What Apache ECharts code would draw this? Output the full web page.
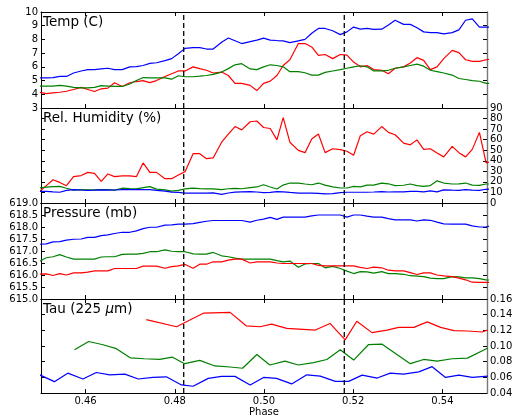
<!DOCTYPE html>
<html>
<head>
<meta charset="utf-8">
<script src="https://cdn.jsdelivr.net/npm/echarts@6/dist/echarts.min.js"></script>
<style>
  html, body { margin: 0; padding: 0; background: #fff; }
  #chart { width: 518px; height: 418px; }
</style>
</head>
<body>
<div id="chart"></div>
<script>
// Orbital phase of each weather sample
const phase = [0.4497, 0.4512, 0.4527, 0.4542, 0.4557, 0.4573, 0.4590, 0.4605, 0.4620, 0.4635,
  0.4650, 0.4665, 0.4682, 0.4699, 0.4714, 0.4729, 0.4744, 0.4759, 0.4778, 0.4793,
  0.4808, 0.4823, 0.4841, 0.4856, 0.4871, 0.4886, 0.4905, 0.4920, 0.4935, 0.4950,
  0.4969, 0.4984, 0.4999, 0.5014, 0.5029, 0.5043, 0.5058, 0.5077, 0.5092, 0.5107,
  0.5122, 0.5137, 0.5154, 0.5171, 0.5186, 0.5201, 0.5216, 0.5231, 0.5246, 0.5264,
  0.5279, 0.5294, 0.5313, 0.5328, 0.5343, 0.5358, 0.5373, 0.5388, 0.5403, 0.5422,
  0.5437, 0.5452, 0.5467, 0.5483, 0.5498, 0.5515];

// Temperature (C)
const tempBlue = [5.2, 5.2, 5.22, 5.3, 5.3, 5.55, 5.7, 5.8, 5.8, 5.85,
  5.9, 5.8, 5.8, 6.0, 6.02, 6.1, 6.25, 6.3, 6.45, 6.6,
  6.95, 7.35, 7.4, 7.4, 7.3, 7.3, 7.8, 8.1, 7.9, 7.7,
  7.84, 7.95, 8.1, 7.95, 7.92, 7.9, 7.77, 7.9, 8.0, 8.45,
  8.8, 8.8, 8.63, 8.35, 8.55, 8.9, 8.75, 8.8, 8.73, 8.75,
  9.05, 9.4, 9.1, 9.1, 8.85, 8.55, 8.5, 8.5, 8.4, 8.5,
  8.7, 9.4, 9.5, 8.9, 8.9, 8.9];
const tempRed = [4.15, 4.05, 4.1, 4.15, 4.22, 4.35, 4.5, 4.35, 4.2, 4.4,
  4.45, 4.84, 4.57, 4.84, 4.93, 5.0, 4.85, 5.0, 5.3, 5.5,
  5.7, 5.7, 6.0, 5.87, 5.75, 5.55, 5.62, 5.37, 4.8, 4.8,
  4.65, 4.27, 4.8, 4.96, 5.37, 6.1, 6.52, 7.7, 7.7, 7.45,
  6.84, 6.9, 6.6, 6.9, 6.85, 6.35, 6.0, 6.1, 5.8, 5.75,
  5.5, 5.9, 6.0, 6.28, 6.67, 6.47, 5.8, 6.0, 6.6, 7.2,
  7.04, 6.52, 6.4, 6.4, 6.52, 6.6];
const tempGreen = [4.6, 4.6, 4.6, 4.65, 4.6, 4.5, 4.47, 4.47, 4.5, 4.63,
  4.6, 4.57, 4.57, 4.75, 5.0, 5.22, 5.2, 5.2, 5.2, 5.1,
  5.35, 5.28, 5.28, 5.32, 5.37, 5.45, 5.62, 5.87, 6.15, 6.23,
  5.85, 5.8, 6.0, 6.15, 6.1, 6.0, 5.65, 5.65, 5.57, 5.4,
  5.4, 5.6, 5.7, 5.8, 5.9, 6.0, 6.08, 6.0, 5.7, 5.7,
  5.75, 5.9, 6.0, 6.1, 6.2, 6.05, 5.75, 5.65, 5.55, 5.4,
  5.15, 5.08, 5.0, 4.95, 4.8, 4.8];

// Relative humidity (%)
const humBlue = [11, 11, 10.5, 10.2, 12, 12.7, 12.3, 12, 12.2, 12.5,
  12.2, 12.3, 12.6, 12.7, 12.7, 12.7, 12.7, 12, 11.2, 10.3,
  10, 9.4, 9.3, 9.3, 9.4, 9.6, 8.2, 9.5, 10.3, 10.6,
  10.8, 10.4, 9.8, 10, 10.8, 10.6, 10, 9.4, 9.3, 9.3,
  9.2, 8.6, 8.8, 9.8, 10.2, 10.2, 10.2, 10.2, 10.4, 10.8,
  10.4, 10.5, 10.5, 11, 11, 10.5, 11.4, 10.6, 12.5, 12.2,
  12, 12.6, 12.2, 12, 13, 13.3];
const humRed = [11, 16.5, 22, 19.5, 16.4, 25, 26, 29, 28, 20.4,
  27.5, 25, 25.7, 25.7, 25, 38, 29, 29, 23, 23,
  26.6, 29.7, 46.7, 46.7, 42, 42.7, 57.6, 65.3, 72.4, 69.3,
  77, 77.7, 71.5, 70.6, 59.8, 80.8, 57.6, 49.8, 47.7, 60.7,
  65.3, 47.7, 51.4, 50.5, 49, 45.2, 63.8, 67.5, 65.3, 72.4,
  66.9, 64.7, 56.7, 55.1, 59.8, 50.8, 51.4, 47.4, 43.7, 53.6,
  47.7, 43.7, 50.8, 66.9, 38, 40];
const humGreen = [14.2, 15, 15.6, 15.8, 14, 12.2, 12.6, 12.5, 12.4, 12.7,
  12.7, 12.2, 14, 13.6, 13.3, 14.5, 15.5, 13.2, 12.5, 11.2,
  12, 13.4, 14, 13.6, 13.3, 13.3, 12.7, 13.5, 13.8, 13.5,
  14.6, 15.2, 17.3, 15.2, 13.3, 17, 18.9, 18.9, 18, 17.3,
  18.9, 17, 15.2, 14.2, 14.2, 15.8, 15.3, 17, 17, 18.9,
  18.2, 16.4, 16.8, 18, 16.5, 15.8, 16.5, 21, 18.9, 18,
  18.2, 18.9, 17, 16.7, 18, 18];

// Pressure (mb)
const presBlue = [617.28, 617.3, 617.38, 617.39, 617.45, 617.49, 617.5, 617.57, 617.57, 617.64,
  617.67, 617.73, 617.78, 617.78, 617.84, 617.93, 617.99, 617.99, 618.08, 618.09,
  618.12, 618.12, 618.14, 618.19, 618.24, 618.27, 618.27, 618.27, 618.27, 618.27,
  618.2, 618.28, 618.33, 618.4, 618.32, 618.41, 618.41, 618.41, 618.41, 618.46,
  618.5, 618.5, 618.5, 618.5, 618.41, 618.5, 618.5, 618.45, 618.41, 618.41,
  618.35, 618.3, 618.3, 618.3, 618.25, 618.3, 618.28, 618.2, 618.13, 618.12,
  618.12, 618.12, 618.05, 618.0, 618.0, 618.09];
const presRed = [616.04, 616.05, 615.98, 616.06, 616.0, 616.09, 616.09, 616.12, 616.17, 616.17,
  616.17, 616.27, 616.27, 616.27, 616.27, 616.37, 616.37, 616.37, 616.28, 616.35,
  616.38, 616.44, 616.28, 616.45, 616.45, 616.55, 616.55, 616.62, 616.66, 616.66,
  616.5, 616.55, 616.55, 616.55, 616.5, 616.48, 616.48, 616.48, 616.48, 616.48,
  616.4, 616.38, 616.38, 616.38, 616.38, 616.38, 616.32, 616.27, 616.33, 616.3,
  616.2, 616.17, 616.17, 616.1, 616.02, 616.09, 616.09, 616.0, 615.96, 615.93,
  615.87, 615.8, 615.7, 615.69, 615.69, 615.69];
const presGreen = [616.57, 616.72, 616.76, 616.85, 616.75, 616.66, 616.66, 616.66, 616.66, 616.75,
  616.76, 616.76, 616.86, 616.87, 616.87, 616.9, 616.97, 616.97, 617.05, 616.99,
  616.97, 616.97, 616.88, 616.87, 616.87, 616.94, 616.8, 616.76, 616.7, 616.66,
  616.66, 616.66, 616.66, 616.66, 616.6, 616.55, 616.58, 616.32, 616.46, 616.48,
  616.48, 616.3, 616.36, 616.27, 616.16, 616.06, 616.14, 616.13, 616.08, 616.14,
  616.06, 616.06, 616.03, 615.97, 615.95, 615.93, 615.87, 615.85, 615.85, 615.93,
  615.92, 615.88, 615.88, 615.85, 615.8, 615.78];

// Tau (225 um) measurements, each with its own sample phases
const tauBluePhase = [0.4497, 0.4530, 0.4560, 0.4594, 0.4624, 0.4654, 0.4688, 0.4718, 0.4751, 0.4781,
  0.4815, 0.4841, 0.4875, 0.4905, 0.4935, 0.4969, 0.4999, 0.5028, 0.5062, 0.5096,
  0.5126, 0.5160, 0.5190, 0.5220, 0.5254, 0.5283, 0.5313, 0.5347, 0.5377, 0.5407,
  0.5437, 0.5467, 0.5502];
const tauBlue = [0.0633, 0.0546, 0.0654, 0.0580, 0.0663, 0.0633, 0.0642, 0.0580, 0.0600, 0.0608,
  0.0504, 0.0487, 0.0588, 0.0613, 0.0613, 0.0504, 0.0600, 0.0588, 0.0517, 0.0633,
  0.0617, 0.0550, 0.0550, 0.0629, 0.0592, 0.0654, 0.0642, 0.0671, 0.0737, 0.0600,
  0.0629, 0.0600, 0.0617];
const tauGreenPhase = [0.4575, 0.4607, 0.4639, 0.4669, 0.4700, 0.4732, 0.4766, 0.4795, 0.4822, 0.4856,
  0.4890, 0.4924, 0.4952, 0.4984, 0.5013, 0.5047, 0.5077, 0.5111, 0.5141, 0.5171,
  0.5201, 0.5234, 0.5264, 0.5298, 0.5328, 0.5358, 0.5388, 0.5422, 0.5456, 0.5502];
const tauGreen = [0.0954, 0.1058, 0.1017, 0.0967, 0.0850, 0.0838, 0.0829, 0.0858, 0.0775, 0.0817,
  0.0746, 0.0733, 0.0717, 0.0892, 0.0758, 0.0808, 0.0758, 0.0788, 0.0829, 0.0954,
  0.0821, 0.1017, 0.1025, 0.0892, 0.0775, 0.0829, 0.0808, 0.0838, 0.0846, 0.0975];
const tauRedPhase = [0.4736, 0.4804, 0.4865, 0.4924, 0.4960, 0.4991, 0.5017, 0.5051, 0.5115, 0.5148,
  0.5182, 0.5208, 0.5242, 0.5276, 0.5302, 0.5336, 0.5366, 0.5396, 0.5426, 0.5456,
  0.5489, 0.5502];
const tauRed = [0.1338, 0.1246, 0.1421, 0.1429, 0.1258, 0.1246, 0.1279, 0.1225, 0.1204, 0.1288,
  0.1079, 0.1317, 0.1171, 0.1204, 0.1238, 0.1238, 0.1308, 0.1238, 0.1196, 0.1192,
  0.1179, 0.1204];

// Event phases drawn as dashed verticals, and phase tick positions
const eventPhases = [0.482, 0.518];
const phaseTicks = [0.46, 0.48, 0.50, 0.52, 0.54];

const FONT = '"DejaVu Sans", "Liberation Sans", sans-serif';
const BLUE = '#0000ff', RED = '#ff0000', GREEN = '#008000';

const panels = [
  { title: 'Temp (C)', min: 3, max: 10, interval: 1, labels: 'left', digits: 0,
    lines: [[phase, tempBlue, BLUE], [phase, tempRed, RED], [phase, tempGreen, GREEN]] },
  { title: 'Rel. Humidity (%)', min: 0, max: 90, interval: 10, labels: 'right', digits: 0,
    lines: [[phase, humRed, RED], [phase, humGreen, GREEN], [phase, humBlue, BLUE]] },
  { title: 'Pressure (mb)', min: 615, max: 619, interval: 0.5, labels: 'left', digits: 1,
    lines: [[phase, presBlue, BLUE], [phase, presGreen, GREEN], [phase, presRed, RED]] },
  { title: 'Tau (225 {mu|μ}m)', min: 0.04, max: 0.16, interval: 0.02, labels: 'right', digits: 2,
    lines: [[tauRedPhase, tauRed, RED], [tauGreenPhase, tauGreen, GREEN], [tauBluePhase, tauBlue, BLUE]] }
];

const tops = [12, 108, 203, 299];
const heights = [96, 95, 96, 96];

const grid = [], xAxis = [], yAxis = [], series = [], title = [];
const zip = (xs, ys) => xs.map((x, i) => [x, ys[i]]);

panels.forEach((p, i) => {
  grid.push({ left: 41, right: 31, top: tops[i], height: heights[i] });
  const last = i === panels.length - 1;
  const xBase = {
    gridIndex: i, type: 'value', min: 0.45, max: 0.55, splitLine: { show: false },
    axisLine: { show: true, lineStyle: { color: '#000', width: 1 } },
    axisTick: { show: true, inside: true, length: 4, customValues: phaseTicks, lineStyle: { color: '#000' } }
  };
  xAxis.push(Object.assign({}, xBase, {
    position: 'bottom',
    axisLabel: {
      show: last, customValues: phaseTicks, margin: 3, color: '#000',
      fontFamily: FONT, fontSize: 10, formatter: v => v.toFixed(2)
    },
    name: last ? 'Phase' : '', nameLocation: 'middle', nameGap: 10,
    nameTextStyle: { fontFamily: FONT, fontSize: 10, color: '#000', verticalAlign: 'top' }
  }));
  xAxis.push(Object.assign({}, xBase, { position: 'top', axisLabel: { show: false } }));

  const yBase = {
    gridIndex: i, type: 'value', min: p.min, max: p.max, interval: p.interval,
    splitLine: { show: false },
    axisTick: { show: true, inside: true, length: 4, lineStyle: { color: '#000' } }
  };
  const lab = side => ({
    show: p.labels === side, margin: 3, color: '#000', fontFamily: FONT, fontSize: 10,
    showMinLabel: true, showMaxLabel: true, formatter: v => v.toFixed(p.digits)
  });
  yAxis.push(Object.assign({}, yBase, {
    position: 'left', axisLabel: lab('left'),
    axisLine: { show: true, lineStyle: { color: '#000', width: 1 } }
  }));
  yAxis.push(Object.assign({}, yBase, {
    position: 'right', axisLabel: lab('right'),
    axisLine: { show: true, lineStyle: { color: '#777', width: 1.4 } }
  }));

  p.lines.forEach(([xs, ys, color]) => {
    series.push({
      type: 'line', xAxisIndex: 2 * i, yAxisIndex: 2 * i, data: zip(xs, ys),
      showSymbol: false, symbol: 'none', clip: true, animation: false,
      lineStyle: { color, width: 1.2 }, itemStyle: { color }
    });
  });

  // dashed event markers spanning the full panel height
  eventPhases.forEach(x => {
    series.push({
      type: 'line', xAxisIndex: 2 * i, yAxisIndex: 2 * i, silent: true,
      data: [[x, p.min], [x, p.max]], showSymbol: false, symbol: 'none', animation: false,
      lineStyle: { color: '#000', width: 1.3, type: [5, 3] }, z: 3
    });
  });

  title.push({
    text: p.title, left: 43, top: tops[i] + 3, padding: 0,
    textStyle: {
      fontFamily: FONT, fontSize: 13.5, fontWeight: 'normal', color: '#000',
      rich: { mu: { fontFamily: FONT, fontSize: 13.5, fontStyle: 'italic', color: '#000' } }
    }
  });
});

const chart = echarts.init(document.getElementById('chart'), null, { renderer: 'canvas' });
chart.setOption({ animation: false, backgroundColor: '#fff', title, grid, xAxis, yAxis, series });
</script>
</body>
</html>
